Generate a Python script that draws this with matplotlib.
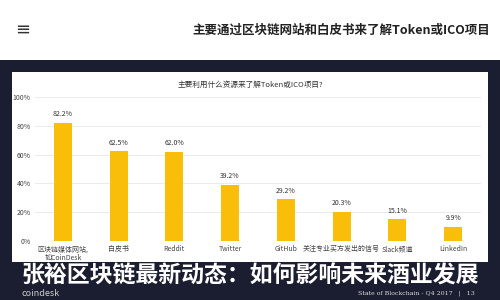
import matplotlib
matplotlib.use("Agg")
import matplotlib.pyplot as plt
from matplotlib.patches import Rectangle

plt.rcParams['font.family'] = ['Noto Sans CJK SC', 'DejaVu Sans']

# data
categories = ["区块链媒体网站,\n如CoinDesk", "白皮书", "Reddit", "Twitter", "GitHub",
              "关注专业买方发出的信号", "Slack频道", "LinkedIn"]
shares = [82.2, 62.5, 62.0, 39.2, 29.2, 20.3, 15.1, 9.9]
y_ticks = [0, 20, 40, 60, 80, 100]

page_title = "主要通过区块链网站和白皮书来了解Token或ICO项目"
chart_title = "主要利用什么资源来了解Token或ICO项目?"
banner = "张裕区块链最新动态：如何影响未来酒业发展"

navy = "#1b1e30"
gold = "#f9be0a"

fig = plt.figure(figsize=(5, 3), dpi=100)
fig.patch.set_facecolor("white")

# dark band and white chart panel (figure pixel coords -> fractions)
fig.patches.append(Rectangle((0, 0), 1, 240 / 300, transform=fig.transFigure,
                             facecolor=navy, edgecolor="none", zorder=0))
fig.patches.append(Rectangle((12 / 500, 38 / 300), 476 / 500, 190 / 300,
                             transform=fig.transFigure, facecolor="white",
                             edgecolor="none", zorder=1))

# header
fig.text(15 / 500, 1 - 30 / 300, "≡", fontsize=13, color="#333333",
         ha="left", va="center", family="DejaVu Sans")
fig.text(490 / 500, 1 - 30 / 300, page_title, fontsize=9, fontweight="bold",
         color="#222222", ha="right", va="center")

ax = fig.add_axes([35 / 500, 59 / 300, 446 / 500, 144 / 300])
ax.set_facecolor("none")
ax.set_zorder(2)

x = list(range(len(categories)))
ax.bar(x, shares, width=0.32, color=gold, zorder=2)
for xi, v in zip(x, shares):
    ax.text(xi, v + 3, f"{v}%", ha="center", va="bottom", fontsize=5,
            color="#333333")

ax.set_xlim(-0.5, len(categories) - 0.5)
ax.set_ylim(0, 100)
ax.set_yticks(y_ticks)
ax.set_yticklabels([f"{t}%" for t in y_ticks], fontsize=5, color="#444444")
ax.set_xticks(x)
ax.set_xticklabels(categories, fontsize=5, color="#444444", linespacing=1.1,
                   va="top")
ax.tick_params(axis="y", length=0, pad=3)
ax.tick_params(axis="x", length=0, pad=3)
ax.yaxis.grid(True, color="#e6e6e6", linewidth=0.6)
ax.set_axisbelow(True)
for s in ax.spines.values():
    s.set_visible(False)

fig.text(250 / 500, 1 - 85 / 300, chart_title, fontsize=5.5, color="#333333",
         ha="center", va="center", zorder=3)

# overlay banner and footer
fig.text(250 / 500, 1 - 276 / 300, banner, fontsize=16.5, fontweight="bold",
         color="white", ha="center", va="center", zorder=4)
fig.text(22 / 500, 1 - 293 / 300, "coindesk", fontsize=6.5, color="#cccccc",
         ha="left", va="center", zorder=4)
fig.text(475 / 500, 1 - 293 / 300, "State of Blockchain - Q4 2017   |   13",
         fontsize=4.5, color="#dddddd", ha="right", va="center",
         family="DejaVu Serif", zorder=4)

fig.savefig("out.png", dpi=100)
